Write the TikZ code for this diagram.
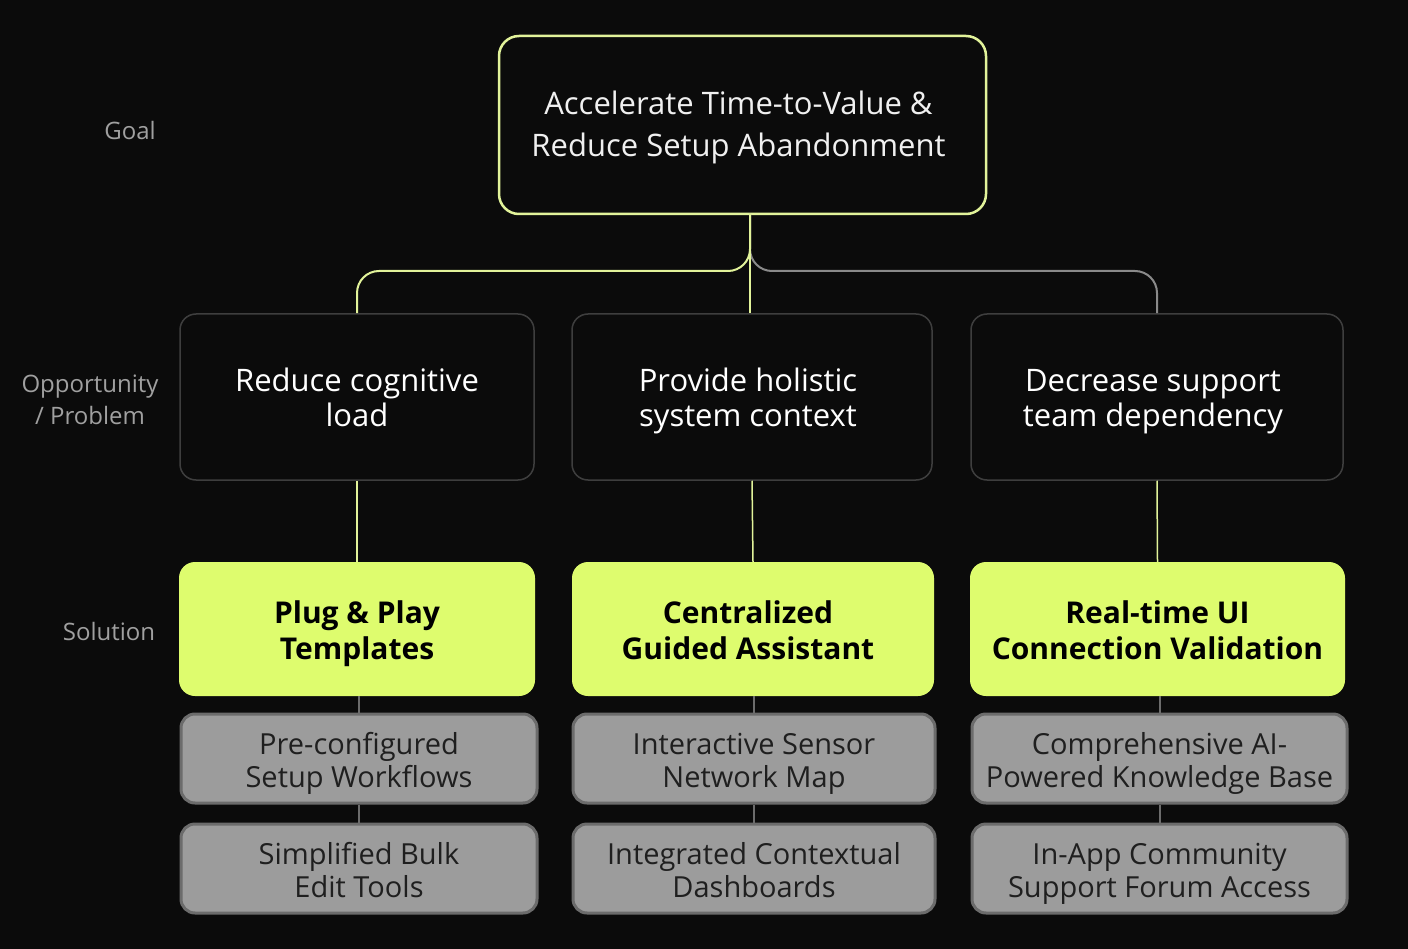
\documentclass[tikz,border=0pt]{standalone}
\usepackage{fontspec}
\setmainfont{Open Sans}
\usetikzlibrary{calc}
\definecolor{bg}{HTML}{0B0B0B}
\definecolor{goalc}{HTML}{E2F39A}
\definecolor{solc}{HTML}{DEFC6E}
\definecolor{grayfill}{HTML}{9C9C9C}
\definecolor{grayedge}{HTML}{6C6C6C}
\definecolor{oppedge}{HTML}{3E3E3E}
\definecolor{labc}{HTML}{A0A0A0}
\definecolor{branchgray}{HTML}{8A8A8A}
\tikzset{
  goalbox/.style={draw=goalc, line width=2.5pt, fill=bg, rounded corners=20pt, minimum width=487pt, minimum height=178pt},
  goaltxt/.style={align=center, inner sep=0pt, text=white!94!black, font=\fontsize{31}{42}\selectfont},
  oppbox/.style={draw=oppedge, line width=1.5pt, fill=bg, rounded corners=16pt, minimum height=166pt},
  opptxt/.style={align=center, inner sep=0pt, text=white, font=\fontsize{31}{35}\selectfont},
  solbox/.style={fill=solc, rounded corners=16pt, minimum height=134pt},
  soltxt/.style={align=center, inner sep=0pt, text=black, font=\fontsize{30}{36}\selectfont\bfseries},
  featbox/.style={draw=grayedge, line width=3pt, fill=grayfill, rounded corners=14pt, minimum height=89pt},
  feattxt/.style={align=center, inner sep=0pt, text=black!88, font=\fontsize{29}{33}\selectfont},
  rowlabel/.style={text=labc, align=center, font=\fontsize{24}{32}\selectfont},
  yline/.style={draw=goalc, line width=2pt},
  gline/.style={draw=branchgray, line width=2pt},
  thin/.style={draw=grayedge, line width=2pt}
}
\begin{document}
\begin{tikzpicture}[x=1pt,y=-1pt]
\fill[bg] (0,0) rectangle (1408,949);
\useasboundingbox (0,0) rectangle (1408,949);

\node[rowlabel] (lgoal) at (130,131) {Goal};
\node[rowlabel] (lopp) at (90,400) {Opportunity\\/ Problem};
\node[rowlabel] (lsol) at (109,631) {Solution};

\node[goalbox] (goal) at (742.5,125) {};
\node[goaltxt] (goalt) at ($(goal.center)+(-4,2)$) {\strut Accelerate Time-to-Value \&\\Reduce Setup Abandonment\strut};

\node[oppbox, minimum width=354pt] (o1) at (357,397) {};
\node[oppbox, minimum width=360pt] (o2) at (752,397) {};
\node[oppbox, minimum width=372pt] (o3) at (1157,397) {};
\node[opptxt] (o1t) at ($(o1.center)+(0,4.5)$) {\strut Reduce cognitive\\load\strut};
\node[opptxt] (o2t) at ($(o2.center)+(-4,4.5)$) {\strut Provide holistic\\system context\strut};
\node[opptxt] (o3t) at ($(o3.center)+(-4,4.5)$) {\strut Decrease support\\team dependency\strut};

\node[solbox, minimum width=356pt] (s1) at (357,629) {};
\node[solbox, minimum width=362pt] (s2) at (753,629) {};
\node[solbox, minimum width=375pt] (s3) at (1157.5,629) {};
\node[soltxt] (s1t) at ($(s1.center)+(0,5)$) {\strut Plug \& Play\\Templates\strut};
\node[soltxt] (s2t) at ($(s2.center)+(-5,5)$) {\strut Centralized\\Guided Assistant\strut};
\node[soltxt] (s3t) at ($(s3.center)+(0,5)$) {\strut Real-time UI\\Connection Validation\strut};

\node[featbox, minimum width=356pt] (f1a) at (359,758.5) {};
\node[featbox, minimum width=356pt] (f1b) at (359,868.5) {};
\node[featbox, minimum width=362pt] (f2a) at (754,758.5) {};
\node[featbox, minimum width=362pt] (f2b) at (754,868.5) {};
\node[featbox, minimum width=375pt] (f3a) at (1159.5,758.5) {};
\node[featbox, minimum width=375pt] (f3b) at (1159.5,868.5) {};
\node[feattxt] (f1at) at ($(f1a.center)+(0,5.5)$) {\strut Pre-configured\\Setup Workflows\strut};
\node[feattxt] (f1bt) at ($(f1b.center)+(0,5.5)$) {\strut Simplified Bulk\\Edit Tools\strut};
\node[feattxt] (f2at) at ($(f2a.center)+(0,5.5)$) {\strut Interactive Sensor\\Network Map\strut};
\node[feattxt] (f2bt) at ($(f2b.center)+(0,5.5)$) {\strut Integrated Contextual\\Dashboards\strut};
\node[feattxt] (f3at) at ($(f3a.center)+(0,5.5)$) {\strut Comprehensive AI-\\Powered Knowledge Base\strut};
\node[feattxt] (f3bt) at ($(f3b.center)+(0,5.5)$) {\strut In-App Community\\Support Forum Access\strut};

\coordinate (j) at (750,271);
\coordinate (top) at (750,214);
% branches
\draw[gline, rounded corners=22pt] (top) -- (j) -| (o3.north);
\draw[yline, rounded corners=22pt] (top) -- (j) -| (o1.north);
\draw[yline] (top) -- (j |- o2.north);

% opportunity to solution
\draw[yline, line width=1.5pt] (o1.south) -- (s1.north);
\draw[yline, line width=1.5pt] (o2.south) -- (s2.north);
\draw[yline, line width=1.5pt] (o3.south) -- (s3.north);

% solution to features
\draw[thin] (s1.south -| f1a.north) -- (f1a.north);
\draw[thin] (f1a.south) -- (f1b.north);
\draw[thin] (s2.south -| f2a.north) -- (f2a.north);
\draw[thin] (f2a.south) -- (f2b.north);
\draw[thin] (s3.south -| f3a.north) -- (f3a.north);
\draw[thin] (f3a.south) -- (f3b.north);
\end{tikzpicture}
\end{document}
